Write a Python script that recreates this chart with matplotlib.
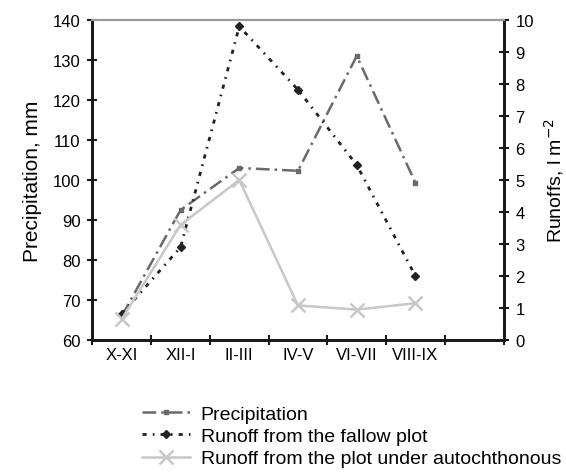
import matplotlib
matplotlib.use("Agg")
import matplotlib.pyplot as plt
from matplotlib.ticker import FixedLocator, MultipleLocator

plt.rcParams['font.family'] = ['Liberation Sans', 'DejaVu Sans']

# data
periods = ['X-XI', 'XII-I', 'II-III', 'IV-V', 'VI-VII', 'VIII-IX']
precipitation = [66.0, 92.5, 103.0, 102.3, 131.0, 99.3]          # mm
runoff_fallow = [0.82, 2.9, 9.8, 7.82, 5.47, 2.0]                  # l m-2
runoff_autoch = [0.66, 3.6, 5.0, 1.08, 0.95, 1.15]                 # l m-2
legend_labels = ['Precipitation',
                 'Runoff from the fallow plot',
                 'Runoff from the plot under autochthonous']

x = [i + 0.5 for i in range(len(periods))]

fig = plt.figure(figsize=(5.66, 4.77), dpi=100)
ax = fig.add_axes([0.1634, 0.2851, 0.7262, 0.6709])
ax2 = ax.twinx()

l1, = ax.plot(x, precipitation, color='#6a6a6a', linewidth=1.8,
              dashes=(5.5, 2, 1, 2), marker='s', markersize=3.5,
              markeredgecolor='#6a6a6a', markerfacecolor='#6a6a6a')
l2, = ax2.plot(x, runoff_fallow, color='#222222', linewidth=2.0,
               dashes=(1.5, 2.2, 0.6, 2.2), marker='D', markersize=4,
               markeredgecolor='#222222', markerfacecolor='#222222')
l3, = ax2.plot(x, runoff_autoch, color='#c8c8c8', linewidth=1.8,
               marker='x', markersize=10, markeredgewidth=1.8)

ax.set_xlim(0, 7)
ax.set_ylim(60, 140)
ax2.set_ylim(0, 10)

ax.xaxis.set_major_locator(FixedLocator(range(8)))
ax.xaxis.set_minor_locator(FixedLocator(x))
ax.set_xticklabels([])
ax.set_xticklabels(periods, minor=True)
ax.tick_params(axis='x', which='major', direction='inout', length=7, width=1.5,
               color='#1a1a1a')
ax.tick_params(axis='x', which='minor', length=0, pad=5, labelsize=12)
ax.yaxis.set_major_locator(MultipleLocator(10))
ax2.yaxis.set_major_locator(MultipleLocator(1))
ax.tick_params(axis='y', direction='inout', length=7, width=1.5,
               color='#1a1a1a', labelsize=12, pad=5)
ax2.tick_params(axis='y', direction='inout', length=7, width=1.5,
                color='#1a1a1a', labelsize=12, pad=5)

for a in (ax, ax2):
    for side in ('left', 'right', 'bottom'):
        a.spines[side].set_linewidth(2)
        a.spines[side].set_color('#1a1a1a')
    a.spines['top'].set_color('#9a9a9a')
    a.spines['top'].set_linewidth(1.5)

ax.set_ylabel('Precipitation, mm', fontsize=15, labelpad=8)
ax2.set_ylabel('Runoffs, l m$^{-2}$', fontsize=14, labelpad=6)

fig.legend([l1, l2, l3], legend_labels, loc='upper left',
           bbox_to_anchor=(0.25, 0.149), frameon=False, fontsize=14,
           handlelength=2.5, handletextpad=0.55, labelspacing=0.25,
           borderpad=0, borderaxespad=0)

fig.savefig('out.png', dpi=100)
